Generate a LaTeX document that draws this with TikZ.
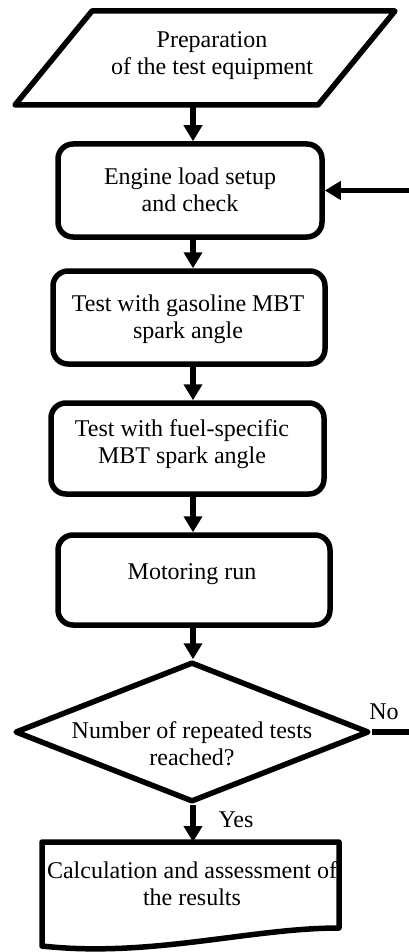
\documentclass[tikz,border=0pt]{standalone}
\usepackage{fontspec}
\setmainfont{Liberation Serif}
\usetikzlibrary{shapes.geometric,arrows.meta}
\begin{document}
\begin{tikzpicture}[x=1pt,y=-1pt,
  lw/.style={line width=5.5pt},
  txt/.style={font=\fontsize{24}{27}\selectfont, align=center, inner sep=0pt},
  holder/.style={inner sep=0pt, outer sep=0pt},
  procbox/.style={draw, lw, rounded corners=15pt, inner sep=0pt, outer sep=2.75pt},
  decision/.style={diamond, draw, lw, line join=round, inner sep=0pt, outer sep=2.75pt},
  arr/.style={lw, -{Triangle[length=16pt,width=18pt]}}
]
\useasboundingbox (0,0) rectangle (409,952);
\fill[white] (0,0) rectangle (409,952);
\coordinate (col) at (193,0);

% input (parallelogram)
\node[holder, minimum width=380pt, minimum height=94pt] (prep) at (205,58) {};
\draw[lw, line join=round] ([shift={(77,0)}]prep.north west) -- (prep.north east)
  -- ([shift={(-77,0)}]prep.south east) -- (prep.south west) -- cycle;
\node[txt] (t0) at (212,55.5) {Preparation\\of the test equipment};

% process boxes
\node[procbox, minimum width=264pt, minimum height=93pt] (box1) at (190,190.5) {};
\node[txt] (t1) at (190,190) {Engine load setup\\and check};

\node[procbox, minimum width=272pt, minimum height=93pt] (box2) at (189,317.5) {};
\node[txt] (t2) at (188,319) {Test with gasoline MBT\\spark angle};

\node[procbox, minimum width=273pt, minimum height=91pt] (box3) at (187.5,448.5) {};
\node[txt] (t3) at (182,444) {Test with fuel-specific\\MBT spark angle};

\node[procbox, minimum width=272pt, minimum height=90pt] (box4) at (194,580) {};
\node[txt] (t4) at (192,574) {Motoring run};

% decision
\node[decision, minimum width=354pt, minimum height=140pt] (dia) at (192,732) {};
\node[txt] (t5) at (192,744) {Number of repeated tests\\reached?};

% document
\node[holder, minimum width=297pt, minimum height=104pt] (doc) at (190.5,894) {};
\draw[lw, line join=round] (doc.south west) -- (doc.north west) -- (doc.north east)
  -- ([shift={(0,-18)}]doc.south east)
  .. controls ([shift={(-89,-18)}]doc.south east) and ([shift={(-189,12)}]doc.south east) .. (doc.south west) -- cycle;
\node[txt] (t6) at (192,884) {Calculation and assessment of\\the results};

% connectors
\draw[arr] (prep.south -| col) -- (box1.north -| col);
\draw[arr] (box1.south -| col) -- (box2.north -| col);
\draw[arr] (box2.south -| col) -- (box3.north -| col);
\draw[arr] (box3.south -| col) -- (box4.north -| col);
\draw[arr] (box4.south -| col) -- (dia.north -| col);
\draw[arr] (dia.south -| col) -- (doc.north -| col);
\draw[arr] (dia.east) -- ++(50,0) |- (box1.east);

% labels
\node[txt] (no) at (384,711.5) {No};
\node[txt] (yes) at (236,820) {Yes};
\end{tikzpicture}
\end{document}
